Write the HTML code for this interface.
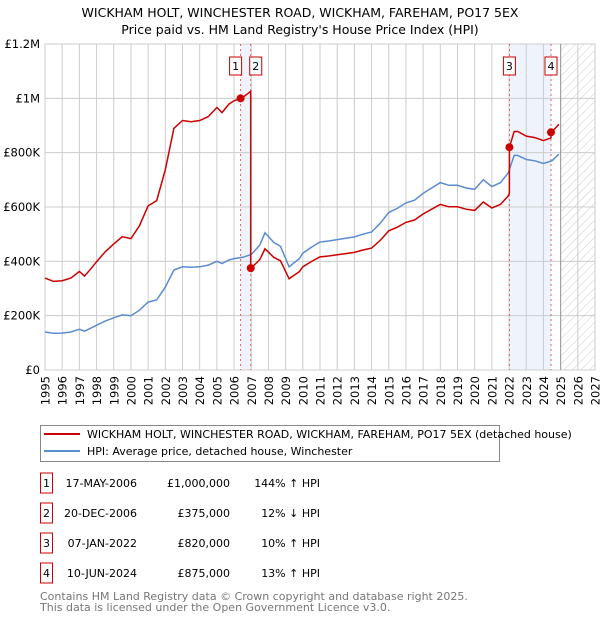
<!DOCTYPE html>
<html><head><meta charset="utf-8"><style>
body{margin:0;background:#fff;font-family:"DejaVu Sans","Liberation Sans",sans-serif;}
svg text{font-family:"DejaVu Sans","Liberation Sans",sans-serif;}
</style></head><body>
<svg id="chart" width="600" height="620" xmlns="http://www.w3.org/2000/svg">
<defs><pattern id="hatch" width="6" height="6" patternUnits="userSpaceOnUse" patternTransform="rotate(45)"><line x1="0" y1="0" x2="0" y2="6" stroke="#ccc" stroke-width="1"/></pattern></defs>
<text x="300" y="17" text-anchor="middle" font-size="12.5">WICKHAM HOLT, WINCHESTER ROAD, WICKHAM, FAREHAM, PO17 5EX</text>
<text x="300" y="34" text-anchor="middle" font-size="12.5">Price paid vs. HM Land Registry's House Price Index (HPI)</text>
<g id="plot"></g>
<g>
<rect x="40.5" y="425.5" width="459" height="36" fill="#fff" stroke="#888"/>
<line x1="44" y1="434" x2="80" y2="434" stroke="#cc0000" stroke-width="2"/>
<text x="87" y="438" font-size="11">WICKHAM HOLT, WINCHESTER ROAD, WICKHAM, FAREHAM, PO17 5EX (detached house)</text>
<line x1="44" y1="451" x2="80" y2="451" stroke="#5b8ccf" stroke-width="2"/>
<text x="87" y="455" font-size="11">HPI: Average price, detached house, Winchester</text>
</g>
<g id="table" font-size="11"></g>
<text x="40" y="600" font-size="11" fill="#777">Contains HM Land Registry data © Crown copyright and database right 2025.</text>
<text x="40" y="611" font-size="11" fill="#777">This data is licensed under the Open Government Licence v3.0.</text>
</svg>
<script>
const hpiYears=[1995,1995.5,1996,1996.5,1997,1997.3,1997.6,1998,1998.5,1999,1999.5,2000,2000.5,2001,2001.5,2002,2002.5,2003,2003.5,2004,2004.5,2005,2005.3,2005.7,2006,2006.5,2007,2007.5,2007.8,2008.3,2008.7,2009.2,2009.8,2010,2010.5,2011,2011.5,2012,2012.5,2013,2013.5,2014,2014.5,2015,2015.5,2016,2016.5,2017,2017.5,2018,2018.5,2019,2019.5,2020,2020.5,2021,2021.5,2021.95,2022.3,2022.5,2023,2023.5,2024,2024.5,2024.9];
const hpiValues=[140,135,136,140,150,143,152,165,180,192,203,200,220,250,258,305,368,380,378,380,386,400,392,405,410,415,425,460,505,470,455,380,410,430,452,471,475,480,485,490,500,508,540,580,595,615,625,650,670,690,680,680,670,665,700,675,690,725,790,790,775,770,760,770,795];
const saleLabels=["1","2","3","4"];
const saleDates=["17-MAY-2006","20-DEC-2006","07-JAN-2022","10-JUN-2024"];
const saleYears=[2006.38,2006.97,2022.02,2024.44];
const salePrices=[1000,375,820,875];
const salePriceText=["£1,000,000","£375,000","£820,000","£875,000"];
const salePctText=["144% ↑ HPI","12% ↓ HPI","10% ↑ HPI","13% ↑ HPI"];
const yTicks=[0,200,400,600,800,1000,1200];
const yTickLabels=["£0","£200K","£400K","£600K","£800K","£1M","£1.2M"];
const xTicks=[1995,1996,1997,1998,1999,2000,2001,2002,2003,2004,2005,2006,2007,2008,2009,2010,2011,2012,2013,2014,2015,2016,2017,2018,2019,2020,2021,2022,2023,2024,2025,2026,2027];

const NS="http://www.w3.org/2000/svg";
const L=45,R=595,T=44,B=370,x0=1995,x1=2027,yMax=1200,dataEnd=2025.0;
const X=v=>L+(v-x0)/(x1-x0)*(R-L);
const Y=v=>B-v/yMax*(B-T);
const plot=document.getElementById('plot');
function mk(tag,attrs,parent){const e=document.createElementNS(NS,tag);for(const k in attrs)e.setAttribute(k,attrs[k]);(parent||plot).appendChild(e);return e;}
function hpiAt(t){for(let i=0;i<hpiYears.length-1;i++){if(t<=hpiYears[i+1]){const f=(t-hpiYears[i])/(hpiYears[i+1]-hpiYears[i]);return hpiValues[i]+f*(hpiValues[i+1]-hpiValues[i]);}}return hpiValues[hpiValues.length-1];}

for(const [a,b] of [[0,1],[2,3]]){
 const r=mk('rect',{x:X(saleYears[a]),y:T,width:X(saleYears[b])-X(saleYears[a]),height:B-T,fill:'#eef3fc'});
 
 
}
const hr=mk('rect',{x:X(dataEnd),y:T,width:R-X(dataEnd),height:B-T,fill:'url(#hatch)'});


xTicks.forEach(t=>{const l=mk('line',{x1:X(t),x2:X(t),y1:T,y2:B,stroke:'#ccc'});
 
 
 const tx=mk('text',{x:0,y:0,'text-anchor':'end','font-size':'11.5',transform:`translate(${X(t)+4.5},376) rotate(-90)`});tx.textContent=t;
 
 });
yTicks.forEach((t,i)=>{const l=mk('line',{x1:L,x2:R,y1:Y(t),y2:Y(t),stroke:'#ccc'});
 
 
 const tx=mk('text',{x:L-5,y:Y(t)+4,'text-anchor':'end','font-size':'11.5'});tx.textContent=yTickLabels[i];
 
 });
mk('rect',{x:L,y:T,width:R-L,height:B-T,fill:'none',stroke:'#ccc'});
const dl=mk('line',{x1:X(dataEnd),x2:X(dataEnd),y1:T,y2:B,stroke:'#999'});


saleYears.forEach(s=>{const l=mk('line',{x1:X(s),x2:X(s),y1:T,y2:B,stroke:'#e06060','stroke-dasharray':'2,3'});
 
 });
const hp=mk('path',{d:hpiYears.map((t,i)=>(i?'L':'M')+X(t).toFixed(1)+','+Y(hpiValues[i]).toFixed(1)).join(''),fill:'none',stroke:'#5b8ccf','stroke-width':1.5});


function ratioFor(t){let k=0;for(let i=0;i<saleYears.length;i++)if(t>=saleYears[i])k=i;return salePrices[k]/hpiAt(saleYears[k]);}
const times=[...hpiYears,...saleYears].sort((a,b)=>a-b);
let d='';
times.forEach((t,i)=>{
 const si=saleYears.indexOf(t);
 if(si>0){d+='L'+X(t).toFixed(1)+','+Y(hpiAt(t)*salePrices[si-1]/hpiAt(saleYears[si-1])).toFixed(1);}
 d+=(d?'L':'M')+X(t).toFixed(1)+','+Y(hpiAt(t)*ratioFor(t)).toFixed(1);
});
const rp=mk('path',{d,fill:'none',stroke:'#cc0000','stroke-width':1.5});


saleYears.forEach((s,i)=>{
 const c=mk('circle',{cx:X(s),cy:Y(salePrices[i]),r:4,fill:'#cc0000'});
 
 
 const off=i===0?-5:(i===1?5:0);
 const bx=mk('rect',{x:X(s)+off-6,y:57,width:12,height:18,fill:'#fff',stroke:'#cc0000'});
 
 
 const tx=mk('text',{x:X(s)+off,y:70,'text-anchor':'middle','font-size':'11'});tx.textContent=saleLabels[i];
 
 
});
const tb=document.getElementById('table');
saleLabels.forEach((lab,i)=>{
 const cy=483+i*30;
 const g=mk('g',{},tb);
 
 
 mk('rect',{x:40.5,y:cy-10,width:12,height:20,fill:'#fff',stroke:'#cc0000'},g);
 const a=mk('text',{x:46.5,y:cy+4,'text-anchor':'middle'},g);a.textContent=lab;
 const b=mk('text',{x:137,y:cy+4,'text-anchor':'end'},g);b.textContent=saleDates[i];
 const c=mk('text',{x:230,y:cy+4,'text-anchor':'end'},g);c.textContent=salePriceText[i];
 const e=mk('text',{x:320,y:cy+4,'text-anchor':'end'},g);e.textContent=salePctText[i];
});
</script>
</body></html>
